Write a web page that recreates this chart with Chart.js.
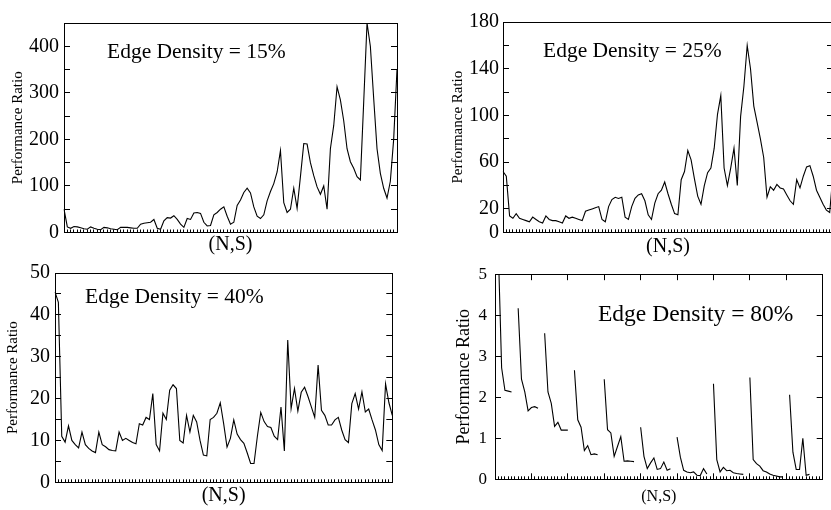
<!DOCTYPE html>
<html>
<head>
<meta charset="utf-8">
<title>Performance Ratio vs (N,S)</title>
<script src="https://cdn.jsdelivr.net/npm/chart.js@4.4.1/dist/chart.umd.min.js"></script>
<style>
html, body { margin: 0; padding: 0; background: #fff; width: 831px; height: 510px; overflow: hidden; }
canvas { position: absolute; }
</style>
</head>
<body>
<canvas id="density15" width="420" height="260" style="left:0;top:0"></canvas>
<canvas id="density25" width="410" height="260" style="left:440px;top:0"></canvas>
<canvas id="density40" width="420" height="260" style="left:0;top:250px"></canvas>
<canvas id="density80" width="391" height="260" style="left:440px;top:250px"></canvas>
<script>
// performance ratio per (N,S) case, one array per edge density
const ratio15 = [
    50, 12, 9, 13, 12, 10, 8, 7, 12, 9,
    7, 6, 11, 10, 8, 7, 6, 11, 11, 11,
    10, 9, 9, 18, 20, 21, 22, 28, 9, 7,
    25, 32, 31, 36, 28, 18, 11, 30, 28, 42,
    43, 41, 22, 14, 15, 38, 43, 50, 55, 35,
    18, 22, 58, 70, 86, 95, 85, 55, 35, 30,
    38, 68, 88, 105, 130, 176, 64, 43, 50, 95,
    52, 120, 191, 190, 150, 122, 98, 82, 100, 50,
    180, 230, 313, 285, 240, 180, 152, 138, 120, 113,
    280, 450, 400, 288, 180, 127, 95, 74, 110, 200,
    350
];
const ratio25 = [
    52, 48, 14, 12, 16, 12, 11, 10, 9, 13,
    11, 9, 8, 14, 11, 10, 10, 9, 8, 14,
    12, 13, 12, 11, 10, 18, 19, 20, 21, 22,
    11, 9, 22, 28, 30, 29, 30, 13, 11, 22,
    29, 32, 33, 27, 15, 11, 25, 33, 36, 43,
    33, 24, 16, 15, 45, 52, 70, 62, 46, 31,
    24, 40, 51, 55, 72, 101, 117, 55, 40, 55,
    72, 40, 99, 125, 160, 140, 108, 94, 80, 64,
    30, 39, 36, 41, 38, 37, 32, 27, 24, 45,
    38, 48, 56, 57, 48, 36, 30, 24, 19, 17,
    50
];
const ratio40 = [
    45.5, 43, 11, 9.6, 13.5, 10, 9, 8.2, 12, 9,
    8.1, 7.5, 7.1, 12, 9, 8.5, 7.8, 7.6, 7.5, 12,
    10, 10.5, 10, 9.5, 9.2, 14, 13.7, 15.5, 15, 21.2,
    9, 7.5, 16.5, 15, 22, 23.3, 22.4, 10, 9.4, 16,
    12, 16, 14.4, 10, 6.5, 6.3, 15, 15.5, 16.5, 19,
    14, 8.4, 10.5, 14.9, 11.5, 10.2, 9.3, 7, 4.5, 4.5,
    11, 16.7, 14.5, 13.3, 13.1, 11, 10.2, 18, 7.5, 34,
    17.6, 22.4, 17, 21.5, 22.7, 20.5, 18, 15.5, 28, 17.2,
    16, 13.7, 13.7, 14.9, 15.5, 12.5, 10.2, 9.5, 18.8, 21.2,
    17.5, 21.6, 16.8, 17.5, 14.9, 12.5, 9, 7.6, 23.5, 19,
    16
];
// null = break between the runs of one N
const ratio80 = [
    null, 5.6, 2.72, 2.17, 2.15, 2.13, null, 4.17, 2.44, 2.13,
    1.67, 1.75, 1.77, 1.73, null, 3.56, 2.13, 1.85, 1.29, 1.39,
    1.2, 1.2, 1.2, null, 2.66, 1.45, 1.27, 0.7, 0.82, 0.6,
    0.62, 0.6, null, 2.44, 1.21, 1.13, 0.56, 0.8, 1.04, 0.44,
    0.45, 0.44, 0.43, null, 1.27, 0.56, 0.26, 0.4, 0.52, 0.24,
    0.26, 0.42, 0.22, 0.26, null, 1.03, 0.54, 0.22, 0.18, 0.16,
    0.18, 0.1, 0.09, 0.26, 0.13, null, 2.33, 0.48, 0.18, 0.29,
    0.21, 0.22, 0.16, 0.14, 0.13, 0.12, null, 2.48, 0.48, 0.38,
    0.32, 0.21, 0.18, 0.13, 0.1, 0.08, 0.06, 0.06, null, 2.06,
    0.66, 0.24, 0.24, 1.0, 0.1, 0.12
];

Chart.defaults.font.family = '"Liberation Serif", "DejaVu Serif", serif';
Chart.defaults.color = "#000";

// "Edge Density = x%" note written inside the plot area
const edgeNote = {
    id: "edgeNote",
    afterDatasetsDraw(chart, args, opts) {
        if (!opts.text) return;
        const ctx = chart.ctx;
        const area = chart.chartArea;
        ctx.save();
        ctx.font = opts.size + 'px "Liberation Serif", serif';
        ctx.fillStyle = "#000";
        ctx.textBaseline = "alphabetic";
        ctx.fillText(opts.text, area.left + opts.dx, area.top + opts.dy);
        ctx.restore();
    }
};
Chart.register(edgeNote);

function makePanel(id, values, count, o) {
    const labels = [];
    for (let i = 0; i < count; i++) labels.push(i);

    // major ticks every o.majorStep cases (only the 80% panel has them)
    const majorColor = ctx => o.majorStep && ctx.index % o.majorStep === 0 ? "#000" : "rgba(0,0,0,0)";

    return new Chart(document.getElementById(id), {
        type: "line",
        data: {
            labels: labels,
            datasets: [{
                data: values,
                borderColor: "#000",
                borderWidth: 1.1,
                pointRadius: 0,
                tension: 0,
                spanGaps: false
            }]
        },
        options: {
            responsive: false,
            animation: false,
            layout: { padding: { top: o.top, right: o.right, left: 0, bottom: 0 } },
            plugins: {
                legend: { display: false },
                tooltip: { enabled: false },
                edgeNote: o.note
            },
            scales: {
                x: {
                    grid: { drawOnChartArea: false, tickLength: -3, color: "#000" },
                    border: { color: "#000", width: 1 },
                    ticks: { display: false, autoSkip: false },
                    title: {
                        display: true, text: "(N,S)", color: "#000",
                        font: { size: o.xTitleSize, lineHeight: 1 },
                        padding: { top: 0, bottom: o.xTitlePad }
                    },
                    afterFit: s => { s.height = o.xHeight; }
                },
                xMajor: {
                    type: "category", position: "bottom", weight: -1,
                    grid: { display: !!o.majorStep, drawOnChartArea: false, tickLength: -6, color: majorColor },
                    border: { display: false },
                    ticks: { display: false, autoSkip: false },
                    afterFit: s => { s.height = 0; }
                },
                top: {
                    type: "category", position: "top",
                    grid: { display: !!o.majorStep, drawOnChartArea: false, tickLength: -6, color: majorColor },
                    border: { color: "#000", width: 1 },
                    ticks: { display: false, autoSkip: false },
                    afterFit: s => { s.height = 0; }
                },
                y: {
                    type: "linear", min: o.yMin, max: o.yMax,
                    ticks: {
                        stepSize: o.yStep, autoSkip: false, color: "#000",
                        padding: o.tickPad, font: { size: o.tickSize },
                        callback: v => o.showLabel(v) ? String(v) : ""
                    },
                    grid: { drawOnChartArea: false, tickLength: -6, color: "#000" },
                    border: { color: "#000", width: 1 },
                    title: {
                        display: true, text: "Performance Ratio", color: "#000",
                        font: { size: o.yTitleSize, lineHeight: 1 },
                        padding: { top: o.yTitlePad, bottom: 0 }
                    },
                    afterFit: s => { s.width = o.left; }
                },
                right: {
                    type: "linear", position: "right", min: o.yMin, max: o.yMax,
                    ticks: { display: false, stepSize: o.yStep },
                    grid: { drawOnChartArea: false, tickLength: -6, color: "#000" },
                    border: { color: "#000", width: 1 },
                    afterFit: s => { s.width = 0; }
                }
            }
        }
    });
}

makePanel("density15", ratio15, ratio15.length, {
    top: 22, right: 23, left: 64, xHeight: 27.5,
    xTitleSize: 20, xTitlePad: 5, yTitleSize: 15, yTitlePad: 11,
    tickSize: 20, tickPad: 11, majorStep: 0,
    yMin: 0, yMax: 450, yStep: 50,
    showLabel: v => v % 100 === 0,
    note: { text: "Edge Density = 15%", size: 21.5, dx: 43, dy: 35 }
});

makePanel("density25", ratio25, ratio25.length, {
    top: 22, right: 17, left: 63, xHeight: 27.7,
    xTitleSize: 20, xTitlePad: 3, yTitleSize: 15, yTitlePad: 11,
    tickSize: 20, tickPad: 10, majorStep: 0,
    yMin: 0, yMax: 180, yStep: 20,
    showLabel: v => v === 0 || (v - 20) % 40 === 0,
    note: { text: "Edge Density = 25%", size: 21.5, dx: 40, dy: 34.7 }
});

makePanel("density40", ratio40, ratio40.length, {
    top: 19.3, right: 27.7, left: 55, xHeight: 27.7,
    xTitleSize: 20, xTitlePad: 4, yTitleSize: 15, yTitlePad: 6,
    tickSize: 20, tickPad: 11, majorStep: 0,
    yMin: 0, yMax: 50, yStep: 5,
    showLabel: v => v % 10 === 0,
    note: { text: "Edge Density = 40%", size: 21.5, dx: 30, dy: 30 }
});

makePanel("density80", ratio80, 100, {
    top: 19.3, right: 8.3, left: 55, xHeight: 30.7,
    xTitleSize: 16, xTitlePad: 5, yTitleSize: 18, yTitlePad: 15,
    tickSize: 17, tickPad: 14, majorStep: 11,
    yMin: 0, yMax: 5, yStep: 1,
    showLabel: v => true,
    note: { text: "Edge Density = 80%", size: 23.5, dx: 103, dy: 46.7 }
});
</script>
</body>
</html>
